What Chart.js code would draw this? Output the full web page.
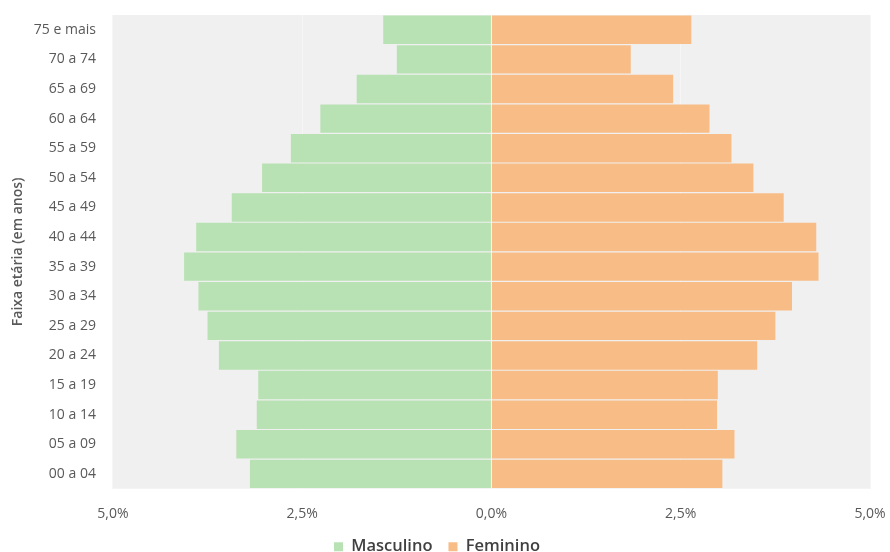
<!DOCTYPE html>
<html>
<head>
<script src="https://cdn.jsdelivr.net/npm/chart.js"></script>
<style>
  body { margin: 0; background: #fff; }
  #wrap { width: 890px; height: 552px; }
</style>
</head>
<body>
<div id="wrap">
  <canvas id="piramide"></canvas>
</div>

<script>
  // faixas etárias, de cima para baixo
  const faixas = ['75 e mais','70 a 74','65 a 69','60 a 64','55 a 59','50 a 54','45 a 49','40 a 44',
                  '35 a 39','30 a 34','25 a 29','20 a 24','15 a 19','10 a 14','05 a 09','00 a 04'];
  // % da população total
  const masculino = [1.43, 1.25, 1.78, 2.26, 2.65, 3.03, 3.43, 3.90, 4.06, 3.87, 3.75, 3.60, 3.08, 3.10, 3.37, 3.19];
  const feminino  = [2.64, 1.84, 2.40, 2.88, 3.17, 3.46, 3.86, 4.29, 4.32, 3.97, 3.75, 3.51, 2.99, 2.98, 3.21, 3.05];
  const xTicks = [-5, -2.5, 0, 2.5, 5];

  // fundo cinza da área de plotagem
  const fundo = {
    id: 'fundo',
    beforeDraw(chart) {
      const a = chart.chartArea, c = chart.ctx;
      c.save();
      c.fillStyle = '#f0f0f0';
      c.fillRect(a.left, a.top, a.right - a.left, a.bottom - a.top);
      c.restore();
    }
  };

  Chart.defaults.font.family = '"Open Sans", sans-serif';
  Chart.defaults.color = '#595959';

  new Chart(document.getElementById('piramide'), {
    type: 'bar',
    data: {
      labels: faixas,
      datasets: [
        { label: 'Masculino', data: masculino.map(v => -v), backgroundColor: '#b9e2b4' },
        { label: 'Feminino', data: feminino, backgroundColor: '#f8bc86' }
      ]
    },
    options: {
      indexAxis: 'y',
      responsive: true,
      maintainAspectRatio: false,
      animation: false,
      layout: { padding: { right: 20, top: 15, left: 4, bottom: -13 } },
      datasets: { bar: { barPercentage: 0.96, categoryPercentage: 1 } },
      scales: {
        x: {
          stacked: true,
          min: -5, max: 5,
          afterBuildTicks(axis) { axis.ticks = xTicks.map(v => ({ value: v })); },
          // marcas invisíveis só para afastar os rótulos do eixo
          grid: { color: '#f6f6f6', drawTicks: true, tickLength: 17, tickColor: 'transparent' },
          border: { display: false },
          ticks: {
            padding: 0,
            font: { size: 14 },
            callback: v => Math.abs(v).toFixed(1).replace('.', ',') + '%'
          }
        },
        y: {
          stacked: true,
          grid: { color: 'transparent', drawTicks: true, tickLength: 17, tickColor: 'transparent' },
          border: { display: false },
          ticks: { padding: 0, font: { size: 14 } },
          title: {
            display: true,
            text: 'Faixa etária (em anos)',
            font: { size: 14, weight: '600' },
            color: '#595959',
            padding: { top: 6, bottom: 7 }
          }
        }
      },
      plugins: {
        legend: {
          position: 'bottom',
          labels: {
            boxWidth: 9, boxHeight: 9, padding: 16,
            color: '#404040',
            font: { size: 16.5, weight: '600' }
          }
        },
        tooltip: { enabled: false }
      }
    },
    plugins: [fundo]
  });
</script>
</body>
</html>
